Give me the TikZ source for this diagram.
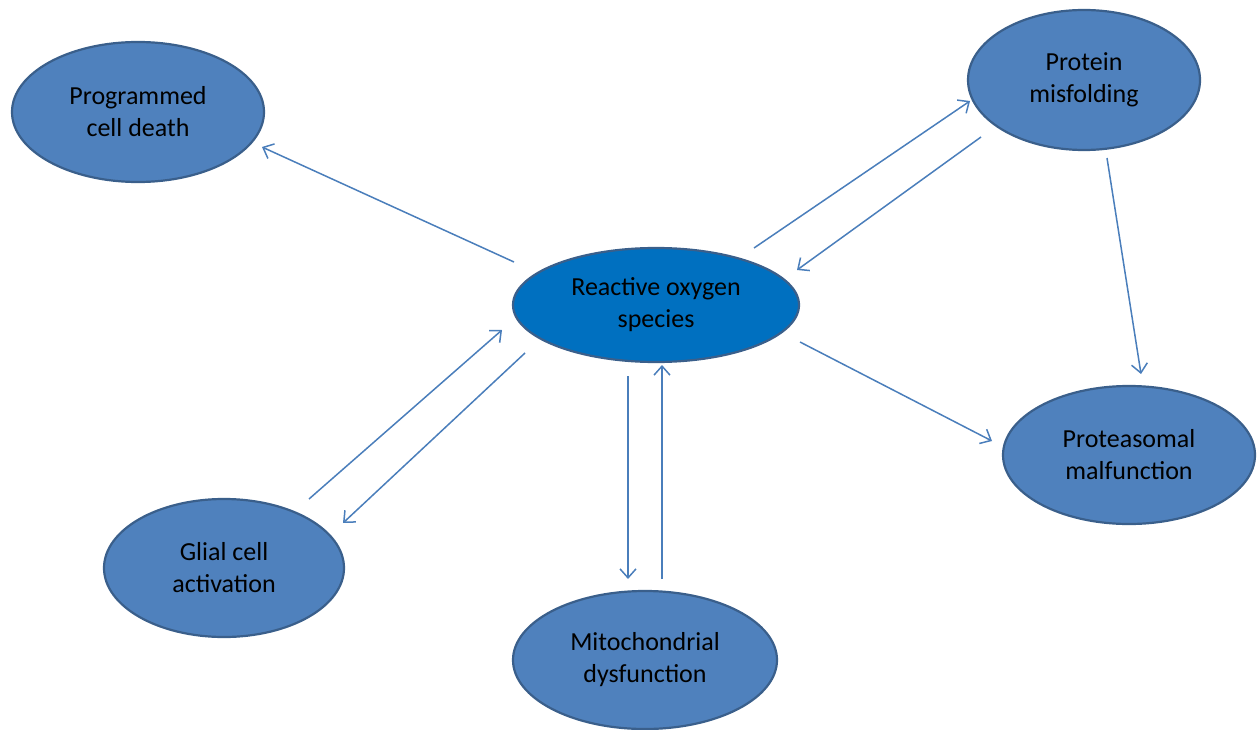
\documentclass[tikz,border=0pt]{standalone}
\usepackage{fontspec}
\setmainfont{Carlito}
\usetikzlibrary{shapes.geometric,arrows.meta}
\definecolor{nodefill}{HTML}{4F81BD}
\definecolor{nodeedge}{HTML}{3A5F8B}
\definecolor{rosfill}{HTML}{0070C0}
\definecolor{arrowcol}{HTML}{4A7EBB}
\begin{document}
\begin{tikzpicture}[x=1pt,y=-1pt,
  bubble/.style={ellipse, draw=nodeedge, line width=2.2pt, fill=nodefill, inner sep=0pt,
    align=center, font=\fontsize{26}{32}\selectfont},
  link/.style={draw=arrowcol, line width=1.5pt, -{Straight Barb[length=9pt,width=16pt,line width=1.5pt]}}]
\useasboundingbox (0,0) rectangle (1257,730);
\node[bubble, minimum width=252pt, minimum height=140pt] (pcd) at (138,112) {Programmed\\cell death};
\node[bubble, minimum width=232pt, minimum height=140pt] (pm) at (1084,80) {Protein\\misfolding};
\node[bubble, fill=rosfill, minimum width=286pt, minimum height=114pt] (ros) at (656,305) {Reactive oxygen\\species};
\node[bubble, minimum width=252pt, minimum height=138pt] (prm) at (1129,455) {Proteasomal\\malfunction};
\node[bubble, minimum width=240pt, minimum height=138pt] (gca) at (224,568) {Glial cell\\activation};
\node[bubble, minimum width=264pt, minimum height=138pt] (mdf) at (645,660) {Mitochondrial\\dysfunction};
% connector end points
\coordinate (a1s) at (514,262); \coordinate (a1e) at (262,147);
\coordinate (a2s) at (754,248); \coordinate (a2e) at (970,101);
\coordinate (a3s) at (981,137); \coordinate (a3e) at (797,270);
\coordinate (a4s) at (1107,158); \coordinate (a4e) at (1141,374);
\coordinate (a5s) at (800,342); \coordinate (a5e) at (992,441);
\coordinate (a6s) at (309,499); \coordinate (a6e) at (502,330);
\coordinate (a7s) at (525,353); \coordinate (a7e) at (343,523);
\coordinate (a8s) at (628,376); \coordinate (a8e) at (628,579);
\coordinate (a9s) at (662,579); \coordinate (a9e) at (662,365);
\draw[link] (a1s) -- (a1e);
\draw[link] (a2s) -- (a2e);
\draw[link] (a3s) -- (a3e);
\draw[link] (a4s) -- (a4e);
\draw[link] (a5s) -- (a5e);
\draw[link] (a6s) -- (a6e);
\draw[link] (a7s) -- (a7e);
\draw[link] (a8s) -- (a8e);
\draw[link] (a9s) -- (a9e);
\end{tikzpicture}
\end{document}
